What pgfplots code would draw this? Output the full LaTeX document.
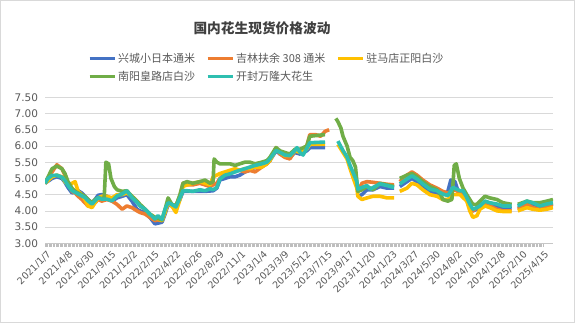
\documentclass[border=0pt]{standalone}
\usepackage{pgfplots}
\pgfplotsset{compat=1.18}
\usepackage{fontspec}
\setmainfont{DejaVu Sans}
\newfontfamily\cjk{Noto Sans CJK SC}
\definecolor{cBlue}{HTML}{4472C4}
\definecolor{cOrange}{HTML}{ED7D31}
\definecolor{cYellow}{HTML}{FFC000}
\definecolor{cGreen}{HTML}{70AD47}
\definecolor{cTeal}{HTML}{2EBFB0}
\definecolor{tgray}{HTML}{595959}
\definecolor{ttitle}{HTML}{404040}
\definecolor{gridc}{HTML}{D9D9D9}
\begin{document}
\begin{tikzpicture}[x=1pt,y=1pt]
\draw[color=gridc, line width=0.8pt] (0.4,0.4) rectangle (574.6,322.6);
\node[font=\cjk\bfseries\fontsize{13.7}{16}\selectfont, text=ttitle] at (262,295) {国内花生现货价格波动};
\begin{axis}[
  at={(45pt,79.7pt)}, anchor=south west,
  scale only axis, width=508pt, height=146pt,
  xmin=0, xmax=1502, ymin=3, ymax=7.5,
  ytick={3,3.5,...,7.5},
  ymajorgrids, grid style={color=gridc, line width=0.7pt},
  axis x line*=bottom, axis y line*=left,
  y axis line style={draw=none},
  x axis line style={color=gridc!80!gray, line width=0.7pt},
  ytick style={draw=none},
  xtick={0,64,...,1472},
  xticklabels={2021/1/7,2021/4/8,2021/6/30,2021/9/15,2021/12/2,2022/2/15,2022/4/22,2022/6/26,2022/8/29,2022/11/1,2023/1/4,2023/3/9,2023/5/12,2023/7/15,2023/9/17,2023/11/20,2024/1/23,2024/3/27,2024/5/30,2024/8/2,2024/10/5,2024/12/8,2025/2/10,2025/4/15},
  minor x tick num=15,
  tick align=outside,
  major tick length=3.5pt, minor tick length=3.5pt,
  xtick style={color=gridc!70!gray, line width=0.6pt},
  minor tick style={color=gridc!70!gray, line width=0.6pt},
  xticklabel style={rotate=45, anchor=north east, font=\fontsize{9.5}{11}\selectfont, text=tgray, inner sep=1pt, yshift=-2pt},
  yticklabel style={font=\fontsize{10.5}{12}\selectfont, text=tgray},
  /pgf/number format/assume math mode=true,
  yticklabel={\pgfmathprintnumber[fixed, fixed zerofill, precision=2]{\tick}},
  unbounded coords=jump,
  legend columns=3,
  legend cell align=left,
  legend style={at={(0.0787,1.33)}, anchor=north west, draw=none, fill=none,
    font=\cjk\fontsize{11}{13}\selectfont, text=tgray, row sep=3pt,
    /tikz/every even column/.append style={column sep=9pt}},
  legend image code/.code={\draw[#1, line width=3pt] (0pt,0pt) -- (25pt,0pt);},
  every axis plot/.append style={line width=3.6pt, line join=round},
]
\addplot[cBlue] coordinates {
(0,4.85)(21,5.00)(35,5.05)(50,5.00)(59,4.88)(68,4.72)(80,4.55)(89,4.60)(98,4.62)(109,4.55)(118,4.45)(127,4.35)(139,4.25)(148,4.35)(157,4.48)(168,4.50)(183,4.45)(198,4.30)(213,4.40)(228,4.45)(242,4.50)(257,4.30)(272,4.05)(281,4.00)(296,3.95)(310,3.80)(325,3.60)(334,3.62)(346,3.65)(355,3.90)(364,4.20)(375,4.15)(387,4.10)(399,4.35)(408,4.60)(437,4.60)(473,4.60)(497,4.62)(508,4.70)(517,4.95)(532,5.00)(547,5.05)(562,5.05)(576,5.10)(591,5.20)(606,5.25)(621,5.35)(641,5.40)(656,5.45)(665,5.55)(683,5.85)(695,5.75)(709,5.70)(724,5.65)(739,5.80)(754,5.75)(774,5.85)(783,5.95)(828,5.95)(860,nan)
(925,4.45)(937,4.50)(952,4.65)(970,4.65)(990,4.75)(1011,4.70)(1032,4.70)(1040,nan)(1049,4.75)(1070,4.90)(1085,5.00)(1100,4.90)(1117,4.75)(1138,4.60)(1159,4.55)(1176,4.50)(1191,4.60)(1200,4.95)(1212,4.90)(1220,4.65)(1236,4.55)(1247,4.35)(1256,4.15)(1265,4.00)(1277,4.05)(1286,4.10)(1301,4.20)(1315,4.15)(1336,4.12)(1354,4.10)(1380,4.08)(1390,nan)(1398,4.10)(1425,4.20)(1442,4.15)(1463,4.10)(1484,4.15)(1502,4.20)
};
\addlegendentry{兴城小日本通米}
\addplot[cOrange] coordinates {
(0,4.85)(21,5.20)(35,5.42)(50,5.30)(59,5.10)(68,4.85)(80,4.60)(89,4.55)(98,4.45)(109,4.35)(118,4.25)(127,4.15)(139,4.15)(148,4.25)(157,4.35)(168,4.30)(183,4.35)(198,4.30)(213,4.20)(228,4.05)(242,4.15)(257,4.10)(272,4.00)(281,3.95)(296,3.90)(310,3.80)(325,3.70)(334,3.72)(346,3.70)(355,4.00)(364,4.25)(375,4.20)(387,4.15)(399,4.45)(408,4.85)(420,4.80)(437,4.80)(458,4.85)(473,4.80)(488,4.75)(497,4.80)(508,4.85)(517,5.00)(532,5.15)(547,5.20)(562,5.25)(576,5.25)(591,5.20)(606,5.25)(621,5.20)(641,5.35)(656,5.45)(665,5.55)(683,5.95)(695,5.75)(709,5.65)(724,5.60)(739,5.85)(754,5.85)(774,6.00)(783,6.35)(800,6.35)(815,6.30)(828,6.45)(840,6.50)(850,nan)
(925,4.60)(937,4.85)(952,4.90)(970,4.88)(990,4.85)(1011,4.82)(1032,4.80)(1040,nan)(1049,4.90)(1070,5.10)(1085,5.20)(1100,5.10)(1117,4.95)(1138,4.80)(1159,4.70)(1176,4.60)(1191,4.55)(1212,4.65)(1236,4.50)(1247,4.35)(1256,4.15)(1265,4.00)(1277,4.10)(1286,4.15)(1301,4.20)(1315,4.15)(1336,4.05)(1354,4.00)(1380,4.00)(1390,nan)(1398,4.05)(1425,4.20)(1442,4.10)(1463,4.05)(1484,4.15)(1502,4.20)
};
\addlegendentry{吉林扶余 308 通米}
\addplot[cYellow] coordinates {
(0,4.85)(21,5.05)(35,5.10)(50,5.05)(59,4.90)(68,4.80)(80,4.85)(89,4.90)(98,4.60)(109,4.50)(118,4.35)(127,4.15)(139,4.10)(148,4.25)(157,4.40)(168,4.45)(183,4.45)(198,4.40)(213,4.50)(228,4.50)(242,4.55)(257,4.45)(272,4.30)(281,4.15)(296,4.05)(310,3.90)(325,3.80)(346,3.70)(355,3.95)(364,4.25)(375,4.15)(387,3.95)(399,4.35)(408,4.75)(420,4.80)(437,4.85)(458,4.90)(473,4.85)(488,4.80)(497,5.05)(508,5.10)(517,5.15)(532,5.20)(547,5.25)(562,5.30)(576,5.25)(591,5.30)(606,5.30)(621,5.35)(641,5.35)(656,5.45)(665,5.55)(683,5.90)(695,5.80)(709,5.70)(724,5.70)(739,5.85)(754,5.80)(774,5.90)(783,6.05)(828,6.05)(840,nan)
(866,6.05)(881,5.80)(893,5.60)(902,5.30)(910,5.05)(922,4.70)(925,4.45)(937,4.35)(952,4.40)(970,4.45)(990,4.45)(1011,4.40)(1032,4.40)(1040,nan)(1049,4.60)(1070,4.70)(1085,4.85)(1100,4.80)(1117,4.65)(1138,4.50)(1159,4.45)(1176,4.35)(1191,4.35)(1206,4.50)(1227,4.50)(1247,4.30)(1256,4.00)(1265,3.80)(1277,3.85)(1286,4.05)(1301,4.15)(1315,4.10)(1336,4.00)(1354,3.98)(1380,3.98)(1390,nan)(1398,4.00)(1425,4.10)(1442,4.05)(1463,4.02)(1484,4.05)(1502,4.10)
};
\addlegendentry{驻马店正阳白沙}
\addplot[cGreen] coordinates {
(0,4.85)(21,5.30)(35,5.38)(50,5.30)(59,5.15)(68,4.90)(80,4.70)(89,4.60)(98,4.55)(109,4.50)(118,4.45)(127,4.35)(139,4.25)(148,4.35)(157,4.40)(168,4.38)(175,4.40)(180,5.50)(188,5.45)(195,5.00)(205,4.75)(213,4.65)(228,4.60)(242,4.62)(257,4.45)(272,4.30)(281,4.20)(296,4.05)(310,3.90)(325,3.80)(346,3.72)(355,4.05)(364,4.40)(375,4.20)(387,4.15)(399,4.50)(408,4.85)(420,4.90)(437,4.85)(458,4.90)(473,4.95)(488,4.85)(497,4.90)(500,5.60)(508,5.50)(517,5.45)(532,5.45)(547,5.45)(562,5.40)(576,5.45)(591,5.50)(606,5.50)(621,5.45)(641,5.50)(656,5.55)(665,5.65)(683,5.95)(695,5.85)(709,5.80)(724,5.75)(739,5.90)(754,5.90)(774,6.00)(783,6.30)(828,6.35)(840,nan)
(860,6.85)(866,6.75)(875,6.55)(881,6.30)(893,6.00)(902,5.65)(910,5.55)(918,5.35)(925,4.60)(937,4.65)(952,4.75)(970,4.65)(990,4.85)(1011,4.80)(1032,4.75)(1040,nan)(1049,5.00)(1070,5.10)(1085,5.15)(1100,5.05)(1117,4.90)(1138,4.75)(1159,4.65)(1170,4.50)(1176,4.35)(1191,4.30)(1203,4.35)(1210,5.40)(1216,5.45)(1225,5.00)(1236,4.70)(1247,4.50)(1256,4.35)(1265,4.20)(1277,4.20)(1286,4.30)(1301,4.45)(1315,4.40)(1336,4.35)(1354,4.25)(1380,4.20)(1390,nan)(1398,4.20)(1425,4.30)(1442,4.25)(1463,4.25)(1484,4.30)(1502,4.35)
};
\addlegendentry{南阳皇路店白沙}
\addplot[cTeal] coordinates {
(0,4.85)(9,5.00)(21,5.09)(35,5.10)(50,5.04)(59,4.93)(68,4.78)(80,4.62)(89,4.57)(98,4.52)(109,4.46)(118,4.41)(127,4.31)(139,4.21)(148,4.31)(157,4.41)(168,4.36)(183,4.36)(198,4.31)(213,4.46)(228,4.52)(242,4.62)(257,4.41)(272,4.26)(281,4.15)(296,4.05)(310,3.90)(325,3.75)(334,3.85)(346,3.74)(355,4.05)(364,4.25)(375,4.20)(387,4.12)(399,4.40)(408,4.62)(420,4.62)(437,4.60)(458,4.65)(473,4.62)(488,4.68)(497,4.65)(508,4.72)(517,4.98)(532,5.10)(547,5.14)(562,5.20)(576,5.25)(591,5.30)(606,5.35)(621,5.40)(641,5.45)(656,5.50)(665,5.60)(683,5.86)(695,5.80)(709,5.72)(724,5.70)(739,5.86)(745,5.95)(754,5.80)(763,5.72)(774,5.92)(783,6.10)(828,6.12)(840,nan)
(866,6.15)(881,5.86)(893,5.66)(902,5.40)(910,5.20)(922,4.90)(925,4.67)(937,4.72)(952,4.78)(961,4.67)(970,4.72)(990,4.83)(1011,4.78)(1032,4.72)(1040,nan)(1049,4.83)(1070,4.98)(1085,5.08)(1100,4.98)(1117,4.83)(1138,4.67)(1159,4.62)(1176,4.52)(1191,4.47)(1206,4.72)(1227,4.62)(1236,4.62)(1247,4.41)(1256,4.21)(1265,4.05)(1277,4.10)(1286,4.15)(1301,4.30)(1315,4.25)(1336,4.21)(1354,4.15)(1380,4.15)(1390,nan)(1398,4.15)(1425,4.30)(1442,4.25)(1463,4.15)(1484,4.21)(1502,4.25)
};
\addlegendentry{开封万隆大花生}
\end{axis}
\end{tikzpicture}
\end{document}
